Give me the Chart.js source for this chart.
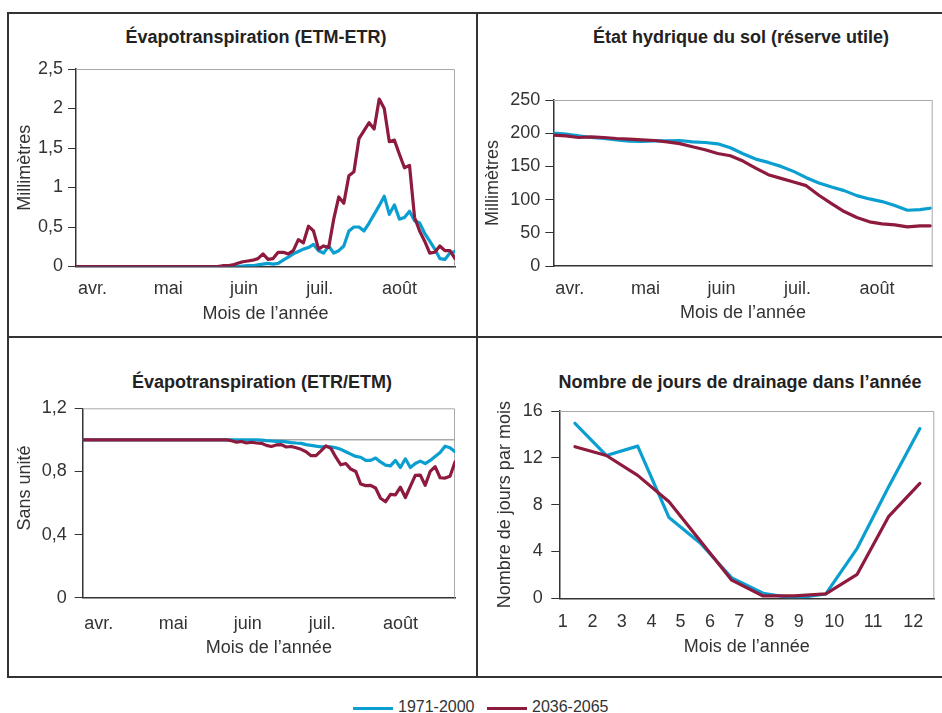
<!DOCTYPE html>
<html lang="fr">
<head>
<meta charset="UTF-8">
<title>Bilan hydrique – évapotranspiration, réserve utile et drainage</title>
<script src="https://cdn.jsdelivr.net/npm/chart.js@4.4.1/dist/chart.umd.min.js"></script>
<style>
  body { margin: 0; background: #fff; font-family: 'Liberation Sans', Arial, sans-serif; color: #333; }
  .page { position: relative; width: 942px; height: 713px; overflow: hidden; }
  .cadre { position: absolute; left: 7px; top: 12px; width: 940px; height: 662px; border: 2px solid #333; }
  .sep-v { position: absolute; left: 476px; top: 12px; width: 2px; height: 666px; background: #333; }
  .sep-h { position: absolute; left: 7px; top: 336px; width: 935px; height: 2px; background: #333; }
  .panneau { position: absolute; }
  .titre { position: absolute; transform: translate(-50%, -50%); font-weight: bold; font-size: 18px; white-space: nowrap; color: #222; }
  .trait { position: absolute; height: 3px; }
  .leg-txt { position: absolute; font-size: 16px; line-height: 16px; color: #333; white-space: nowrap; }
</style>
</head>
<body>
<div class="page">
  <div class="cadre"></div>
  <div class="sep-v"></div>
  <div class="sep-h"></div>

  <div class="titre" style="left:256px; top:37px;">Évapotranspiration (ETM-ETR)</div>
  <div class="titre" style="left:741px; top:37px;">État hydrique du sol (réserve utile)</div>
  <div class="titre" style="left:262px; top:382px;">Évapotranspiration (ETR/ETM)</div>
  <div class="titre" style="left:740px; top:382px;">Nombre de jours de drainage dans l’année</div>

  <div class="panneau" style="left:10px; top:15px; width:465px; height:320px;"><canvas id="etmEtr"></canvas></div>
  <div class="panneau" style="left:479px; top:15px; width:461px; height:320px;"><canvas id="reserve"></canvas></div>
  <div class="panneau" style="left:10px; top:339px; width:465px; height:336px;"><canvas id="etrEtm"></canvas></div>
  <div class="panneau" style="left:479px; top:339px; width:461px; height:336px;"><canvas id="drainage"></canvas></div>

  <div class="trait" style="left:353px; top:707px; width:40px; background:#0a9fd0;"></div>
  <div class="leg-txt" style="left:398px; top:699px;">1971-2000</div>
  <div class="trait" style="left:487px; top:707px; width:40px; background:#8e1b3e;"></div>
  <div class="leg-txt" style="left:532px; top:699px;">2036-2065</div>
</div>

<script>
// Jours depuis le 1er avril (pas de 2 jours)
const jours = [0, 2, 4, 6, 8, 10, 12, 14, 16, 18, 20, 22, 24, 26, 28, 30, 32, 34, 36, 38,
  40, 42, 44, 46, 48, 50, 52, 54, 56, 58, 60, 62, 64, 66, 68, 70, 72, 74, 76, 78,
  80, 82, 84, 86, 88, 90, 92, 94, 96, 98, 100, 102, 104, 106, 108, 110, 112, 114, 116, 118,
  120, 122, 124, 126, 128, 130, 132, 134, 136, 138, 140, 142, 144, 146, 148, 150];

// ETM-ETR (mm)
const etmEtrRef = [0, 0, 0, 0, 0, 0, 0, 0, 0, 0, 0, 0, 0, 0, 0, 0, 0, 0, 0, 0,
  0, 0, 0, 0, 0, 0, 0, 0, 0, 0, 0, 0, 0, 0.005, 0.01, 0.01, 0.02, 0.03, 0.04, 0.03,
  0.04, 0.08, 0.12, 0.16, 0.19, 0.22, 0.24, 0.28, 0.2, 0.17, 0.26, 0.17, 0.2, 0.26, 0.45, 0.5, 0.5, 0.45, 0.55, 0.66,
  0.77, 0.89, 0.66, 0.78, 0.6, 0.62, 0.7, 0.58, 0.55, 0.42, 0.32, 0.22, 0.1, 0.09, 0.17, 0.19];
const etmEtrFutur = [0, 0, 0, 0, 0, 0, 0, 0, 0, 0, 0, 0, 0, 0, 0, 0, 0, 0, 0, 0,
  0, 0, 0, 0, 0, 0, 0, 0, 0, 0.01, 0.01, 0.02, 0.04, 0.06, 0.07, 0.08, 0.1, 0.16, 0.09, 0.1,
  0.18, 0.18, 0.16, 0.2, 0.34, 0.3, 0.51, 0.45, 0.22, 0.26, 0.24, 0.6, 0.88, 0.8, 1.15, 1.2, 1.62, 1.72, 1.82, 1.74,
  2.12, 2.0, 1.58, 1.6, 1.42, 1.25, 1.28, 0.62, 0.45, 0.32, 0.17, 0.18, 0.26, 0.2, 0.2, 0.1];

// ETR/ETM (sans unité)
const etrEtmRef = [1, 1, 1, 1, 1, 1, 1, 1, 1, 1, 1, 1, 1, 1, 1, 1, 1, 1, 1, 1,
  1, 1, 1, 1, 1, 1, 1, 1, 1, 1, 1, 1, 1, 1, 1, 1, 0.998, 0.995, 0.993, 0.99,
  0.99, 0.987, 0.983, 0.98, 0.978, 0.97, 0.965, 0.96, 0.956, 0.958, 0.956, 0.95, 0.94, 0.925, 0.91, 0.895, 0.89, 0.87, 0.87, 0.885,
  0.86, 0.84, 0.835, 0.87, 0.825, 0.88, 0.825, 0.85, 0.865, 0.85, 0.87, 0.895, 0.92, 0.96, 0.95, 0.925];
const etrEtmFutur = [1, 1, 1, 1, 1, 1, 1, 1, 1, 1, 1, 1, 1, 1, 1, 1, 1, 1, 1, 1,
  1, 1, 1, 1, 1, 1, 1, 1, 1, 1, 0.995, 0.985, 0.99, 0.98, 0.985, 0.98, 0.978, 0.965, 0.958, 0.968,
  0.97, 0.955, 0.958, 0.95, 0.94, 0.925, 0.9, 0.9, 0.93, 0.962, 0.946, 0.89, 0.842, 0.85, 0.815, 0.8, 0.72, 0.71, 0.712, 0.695,
  0.63, 0.608, 0.655, 0.652, 0.7, 0.635, 0.705, 0.775, 0.777, 0.712, 0.8, 0.83, 0.76, 0.758, 0.77, 0.86];
const seuilEtrEtm = 1;

// Réserve utile (mm), pas de 5 jours
const joursRU = [0, 5, 10, 15, 20, 25, 30, 35, 40, 45, 50, 55, 60, 65, 70, 75, 80, 85, 90, 95,
  100, 105, 110, 115, 120, 125, 130, 135, 140, 145, 149];
const reserveRef = [200, 198.5, 196, 193.5, 192, 190, 188, 187.5, 188.3, 188.4, 189, 187, 186, 184, 178, 169, 161, 156, 150, 142.5,
  133, 125, 119, 113.5, 106, 101, 97, 91, 84, 85, 87];
const reserveFutur = [197, 196, 193.5, 194.5, 193.5, 192, 191, 190, 189, 187, 184.3, 179.5, 175, 169.5, 166, 158, 147.5, 137.5, 132, 126.5,
  121, 106.5, 94, 82, 73, 66.5, 63.5, 62, 59, 60.5, 60.5];

// Drainage : nombre de jours par mois
const moisNum = [1, 2, 3, 4, 5, 6, 7, 8, 9, 10, 11, 12];
const drainageRef = [14.95, 12.2, 13.0, 6.9, 4.7, 1.75, 0.43, 0, 0.37, 4.27, 9.5, 14.5];
const drainageFutur = [12.95, 12.2, 10.5, 8.25, 4.9, 1.55, 0.2, 0.2, 0.37, 2.05, 6.97, 9.82];

// Libellés des axes
const moisSaison = ['avr.', 'mai', 'juin', 'juil.', 'août'];
const moisAnnee = ['1', '2', '3', '4', '5', '6', '7', '8', '9', '10', '11', '12'];

// Emplacement des libellés sur l'axe des x
const posSaison = [6.5, 36.5, 66.5, 96.5, 128];
const posAnnee = [0.607, 1.563, 2.488, 3.444, 4.369, 5.304, 6.239, 7.196, 8.141, 9.268, 10.51, 11.786];

const BLEU = '#0a9fd0';
const BORDEAUX = '#8e1b3e';
const POLICE = { family: "'Liberation Sans', Arial, sans-serif", size: 18 };

// bords haut et droit de la zone de tracé, en gris clair
const cadreZone = {
  id: 'cadreZone',
  beforeDatasetsDraw(chart) {
    const { ctx, chartArea: a } = chart;
    ctx.save();
    ctx.strokeStyle = '#a9a9a9';
    ctx.lineWidth = 1;
    ctx.beginPath();
    ctx.moveTo(a.left, a.top + 0.5);
    ctx.lineTo(a.right - 0.5, a.top + 0.5);
    ctx.lineTo(a.right - 0.5, a.bottom);
    ctx.stroke();
    ctx.restore();
  }
};

function points(xs, ys) {
  return xs.map((x, i) => ({ x: x, y: ys[i] }));
}

function serie(xs, ys, couleur, ordre) {
  return {
    data: points(xs, ys),
    borderColor: couleur,
    borderWidth: 3.2,
    pointRadius: 0,
    tension: 0,
    borderJoinStyle: 'round',
    borderCapStyle: 'round',
    order: ordre
  };
}

function virgule(v) {
  return String(Math.round(v * 100) / 100).replace('.', ',');
}

function graphique(id, p) {
  new Chart(document.getElementById(id), {
    type: 'line',
    data: { datasets: p.datasets },
    options: {
      responsive: true,
      maintainAspectRatio: false,
      animation: false,
      layout: { padding: p.padding },
      plugins: { legend: { display: false }, tooltip: { enabled: false } },
      scales: {
        x: {
          type: 'linear',
          min: p.xMin,
          max: p.xMax,
          afterBuildTicks: s => { s.ticks = p.xPos.map(v => ({ value: v })); },
          afterFit: s => { s.height = p.xHauteur; },
          ticks: {
            callback: (v, i) => p.xLabels[i],
            autoSkip: false, maxRotation: 0,
            padding: p.xPad, font: POLICE, color: '#333'
          },
          grid: { display: false },
          border: { color: '#333', width: 1.5 },
          title: { display: true, text: 'Mois de l’année', font: POLICE, color: '#333', padding: 0 }
        },
        y: {
          min: p.yMin,
          max: p.yMax,
          afterFit: s => { s.width = p.yLargeur; },
          ticks: {
            stepSize: p.yPas,
            callback: v => virgule(v),
            padding: p.yPad, font: POLICE, color: '#333'
          },
          grid: { drawOnChartArea: false, drawTicks: true, tickLength: 8, color: '#333' },
          border: { color: '#333', width: 1.5 },
          title: { display: true, text: p.yTitre, font: POLICE, color: '#333', padding: 0 }
        }
      }
    },
    plugins: [cadreZone]
  });
}

graphique('etmEtr', {
  datasets: [serie(jours, etmEtrRef, BLEU, 2), serie(jours, etmEtrFutur, BORDEAUX, 1)],
  padding: { left: 4, right: 20, top: 54, bottom: 10 },
  xMin: 0, xMax: 150, xPos: posSaison, xLabels: moisSaison, xHauteur: 58.5, xPad: 4,
  yMin: 0, yMax: 2.5, yPas: 0.5, yLargeur: 62, yPad: 5, yTitre: 'Millimètres'
});

graphique('reserve', {
  datasets: [serie(joursRU, reserveRef, BLEU, 2), serie(joursRU, reserveFutur, BORDEAUX, 1)],
  padding: { left: 3.5, right: 7.3, top: 85, bottom: 11.5 },
  xMin: 0, xMax: 150, xPos: posSaison, xLabels: moisSaison, xHauteur: 57.5, xPad: 4,
  yMin: 0, yMax: 250, yPas: 50, yLargeur: 70.8, yPad: 5, yTitre: 'Millimètres'
});

graphique('etrEtm', {
  datasets: [
    serie(jours, etrEtmRef, BLEU, 2),
    serie(jours, etrEtmFutur, BORDEAUX, 1),
    {
      data: [{ x: 0, y: seuilEtrEtm }, { x: 150, y: seuilEtrEtm }],
      borderColor: '#a9a9a9', borderWidth: 1.5, pointRadius: 0, order: 3
    }
  ],
  padding: { left: 4.2, right: 20, top: 69.3, bottom: 15.9 },
  xMin: 0, xMax: 150, xPos: posSaison, xLabels: moisSaison, xHauteur: 61.4, xPad: 7.5,
  // espaces en tête : le titre vertical est remonté au-dessus du milieu de l'axe
  yMin: 0, yMax: 1.2, yPas: 0.4, yLargeur: 68.5, yPad: 8, yTitre: '\u00a0\u00a0\u00a0\u00a0\u00a0\u00a0Sans unité'
});

graphique('drainage', {
  datasets: [serie(moisNum, drainageRef, BLEU, 2), serie(moisNum, drainageFutur, BORDEAUX, 1)],
  padding: { left: 15.2, right: 5.7, top: 72, bottom: 16.9 },
  xMin: 0.5, xMax: 12.46, xPos: posAnnee, xLabels: moisAnnee, xHauteur: 59.8, xPad: 5,
  yMin: 0, yMax: 16, yPas: 4, yLargeur: 65.1, yPad: 8.5, yTitre: 'Nombre de jours par mois'
});
</script>
</body>
</html>
